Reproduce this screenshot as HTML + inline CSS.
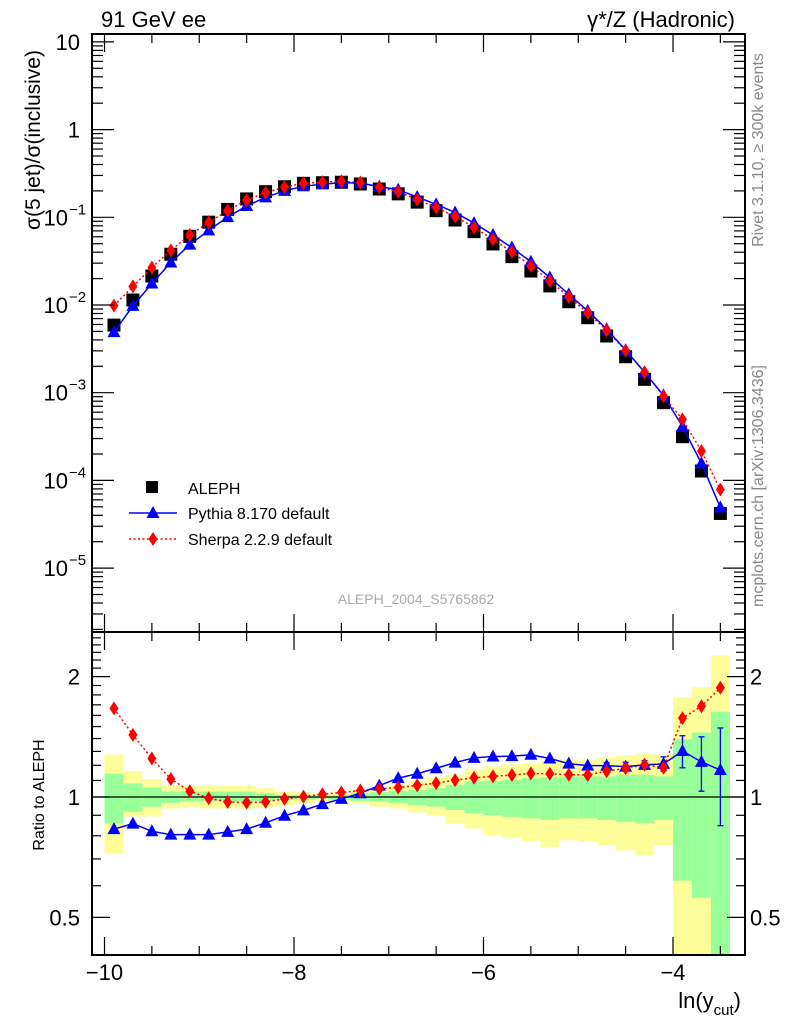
<!DOCTYPE html>
<html><head><meta charset="utf-8"><style>
body{margin:0;background:#fff}
svg{display:block;font-family:"Liberation Sans",sans-serif}
</style></head><body>
<svg id="c" width="786" height="1024"></svg>
<script>
// ---- data ----
const xVals = [-9.9,-9.7,-9.5,-9.3,-9.1,-8.9,-8.7,-8.5,-8.3,-8.1,-7.9,-7.7,-7.5,-7.3,-7.1,-6.9,-6.7,-6.5,-6.3,-6.1,-5.9,-5.7,-5.5,-5.3,-5.1,-4.9,-4.7,-4.5,-4.3,-4.1,-3.9,-3.7,-3.5];
const alephVals = [5.9e-3,0.0114,0.0214,0.0379,0.0607,0.088,0.123,0.162,0.196,0.223,0.244,0.248,0.251,0.240,0.210,0.185,0.149,0.119,0.0931,0.0686,0.0497,0.0356,0.0244,0.0165,0.0109,7.16e-3,4.43e-3,2.57e-3,1.42e-3,7.7e-4,3.15e-4,1.28e-4,4.2e-5];
const pythiaRatio = [0.831,0.858,0.821,0.805,0.805,0.805,0.818,0.831,0.862,0.898,0.926,0.960,0.989,1.022,1.068,1.115,1.143,1.180,1.219,1.253,1.263,1.265,1.275,1.248,1.212,1.198,1.198,1.191,1.203,1.210,1.303,1.224,1.168];
const pythiaErr = [0,0,0,0,0,0,0,0,0,0,0,0,0,0,0,0,0,0,0,0,0,0,0,0,0,0,0.02,0.03,0.03,0.05,0.12,0.19,0.32];
const sherpaRatio = [1.665,1.43,1.248,1.109,1.034,0.993,0.972,0.968,0.972,0.989,1.002,1.016,1.026,1.038,1.048,1.056,1.069,1.083,1.102,1.117,1.126,1.135,1.145,1.143,1.137,1.135,1.160,1.180,1.205,1.183,1.575,1.686,1.875];
const yellowHi = [1.277,1.160,1.109,1.067,1.067,1.067,1.067,1.067,1.052,1.032,1.028,1.022,1.028,1.042,1.052,1.073,1.094,1.115,1.137,1.175,1.193,1.205,1.217,1.229,1.241,1.241,1.253,1.272,1.282,1.277,1.776,1.883,2.26];
const greenHi = [1.143,1.081,1.056,1.032,1.032,1.032,1.032,1.032,1.022,1.012,1.012,1.008,1.012,1.022,1.028,1.036,1.042,1.052,1.073,1.094,1.098,1.105,1.115,1.119,1.126,1.126,1.126,1.137,1.137,1.126,1.394,1.449,1.633];
const greenLo = [0.858,0.919,0.945,0.966,0.974,0.974,0.974,0.974,0.978,0.981,0.985,0.989,0.983,0.978,0.974,0.965,0.955,0.946,0.928,0.910,0.901,0.892,0.884,0.876,0.884,0.884,0.876,0.867,0.858,0.876,0.618,0.560,0.3];
const yellowLo = [0.722,0.894,0.894,0.936,0.942,0.936,0.936,0.936,0.942,0.955,0.965,0.974,0.974,0.965,0.946,0.936,0.915,0.901,0.858,0.834,0.802,0.794,0.775,0.749,0.779,0.772,0.757,0.735,0.714,0.757,0.3,0.3,0.3];
const xTicks = [-10,-8,-6,-4];
const yMainTicks = [1,0,-1,-2,-3,-4,-5];
const yMainLabels = ["10","1","10","10","10","10","10"];
const yMainExps = ["","","\u22121","\u22122","\u22123","\u22124","\u22125"];
const ratioTicks = [0.5,1,2];

// ---- scales ----
const NS="http://www.w3.org/2000/svg", svg=document.getElementById('c');
const L=92,R=745,T=34,MB=632,RB=955;
const X=v=>104.5+(v+10)*94.75;
const YM=v=>217.3-(Math.log10(v)+1)*87.7;
const YR=v=>797-400*Math.log10(v);
function el(t,a,p){const e=document.createElementNS(NS,t);for(const k in a)e.setAttribute(k,a[k]);(p||svg).appendChild(e);return e;}
function txt(s,a,p){const e=el('text',a,p);e.textContent=s;return e;}

const defs=el('defs',{});
const c1=el('clipPath',{id:'cm'},defs);el('rect',{x:L,y:T,width:R-L,height:MB-T},c1);
const c2=el('clipPath',{id:'cr'},defs);el('rect',{x:L,y:MB,width:R-L,height:RB-MB},c2);

// ---- ratio bands ----
const gR=el('g',{'clip-path':'url(#cr)'});


xVals.forEach((x,i)=>{
  const x0=X(x-0.1),w=X(x+0.1)-x0;
  const y=el('rect',{x:x0,y:YR(yellowHi[i]),width:w,height:YR(yellowLo[i])-YR(yellowHi[i]),fill:'#ffff99'},gR);
  
  
  const g=el('rect',{x:x0,y:YR(greenHi[i]),width:w,height:YR(greenLo[i])-YR(greenHi[i]),fill:'#99ff99'},gR);
  
  
});
el('line',{x1:L,x2:R,y1:YR(1),y2:YR(1),stroke:'#000','stroke-width':1.3},gR);

function tri(g,x,y,c){return el('path',{d:`M${x} ${y-7}L${x+6.5} ${y+5}L${x-6.5} ${y+5}Z`,fill:c},g);}
function dia(g,x,y,c){return el('path',{d:`M${x} ${y-7}L${x+4.5} ${y}L${x} ${y+7}L${x-4.5} ${y}Z`,fill:c},g);}

el('polyline',{points:xVals.map((x,i)=>X(x)+','+YR(sherpaRatio[i])).join(' '),fill:'none',stroke:'#f00','stroke-width':1.5,'stroke-dasharray':'2,2.5'},gR);
el('polyline',{points:xVals.map((x,i)=>X(x)+','+YR(pythiaRatio[i])).join(' '),fill:'none',stroke:'#00f','stroke-width':1.5},gR);
xVals.forEach((x,i)=>{
  if(pythiaErr[i]>0){
    const a=YR(pythiaRatio[i]+pythiaErr[i]),b=YR(Math.max(pythiaRatio[i]-pythiaErr[i],0.3));
    el('line',{x1:X(x),x2:X(x),y1:a,y2:b,stroke:'#00f','stroke-width':1.3},gR);
    el('line',{x1:X(x)-3,x2:X(x)+3,y1:a,y2:a,stroke:'#00f','stroke-width':1.3},gR);
    el('line',{x1:X(x)-3,x2:X(x)+3,y1:b,y2:b,stroke:'#00f','stroke-width':1.3},gR);
  }
  const p=tri(gR,X(x),YR(pythiaRatio[i]),'#00f');
  
  
  const s=dia(gR,X(x),YR(sherpaRatio[i]),'#f00');
  
  
});

// ---- main plot ----
const gM=el('g',{'clip-path':'url(#cm)'});


const pyV=alephVals.map((v,i)=>v*pythiaRatio[i]);
const shV=alephVals.map((v,i)=>v*sherpaRatio[i]);
xVals.forEach((x,i)=>{
  const s=el('rect',{x:X(x)-6.5,y:YM(alephVals[i])-6.5,width:13,height:13,fill:'#000'},gM);
  
  
});
el('polyline',{points:xVals.map((x,i)=>X(x)+','+YM(shV[i])).join(' '),fill:'none',stroke:'#f00','stroke-width':1.5,'stroke-dasharray':'2,2.5'},gM);
el('polyline',{points:xVals.map((x,i)=>X(x)+','+YM(pyV[i])).join(' '),fill:'none',stroke:'#00f','stroke-width':1.5},gM);
xVals.forEach((x,i)=>{
  const p=tri(gM,X(x),YM(pyV[i]),'#00f');
  
  
  const s=dia(gM,X(x),YM(shV[i]),'#f00');
  
  
});

// ---- frames & ticks ----
el('rect',{x:L,y:T,width:R-L,height:MB-T,fill:'none',stroke:'#000','stroke-width':2});
el('rect',{x:L,y:MB,width:R-L,height:RB-MB,fill:'none',stroke:'#000','stroke-width':2});
const tk={stroke:'#000','stroke-width':1.2};
for(let v=-10;v<=-3.3;v+=0.5){
  const x=X(v),maj=Math.abs(v-Math.round(v/2)*2)<1e-6,len=maj?18:9;
  [[T,T+len],[MB,MB-len],[MB,MB+len],[RB,RB-len]].forEach(([a,b])=>el('line',Object.assign({x1:x,x2:x,y1:a,y2:b},tk)));
}
for(let d=-6;d<=1;d++){for(let m=1;m<10;m++){
  const y=YM(m*Math.pow(10,d)); if(y<T||y>MB)continue;
  const len=m==1?22:11;
  el('line',Object.assign({x1:L,x2:L+len,y1:y,y2:y},tk));
  el('line',Object.assign({x1:R,x2:R-len,y1:y,y2:y},tk));
}}
for(let v=0.4;v<=2.6;v+=0.1){
  const y=YR(v); if(y<MB||y>RB)continue;
  const maj=[0.5,1,2].some(q=>Math.abs(q-v)<1e-6),len=maj?18:9;
  el('line',Object.assign({x1:L,x2:L+len,y1:y,y2:y},tk));
  el('line',Object.assign({x1:R,x2:R-len,y1:y,y2:y},tk));
}
yMainTicks.forEach((e,i)=>{
  const y=YM(Math.pow(10,e));
  const t=txt(yMainLabels[i],{x:yMainExps[i]?68:80,y:y+8,'font-size':22,'text-anchor':'end'});
  
  
  if(yMainExps[i]){
    const s=txt(yMainExps[i],{x:69,y:y-3,'font-size':15});
    
    
  }
});
ratioTicks.forEach(v=>{
  const y=YR(v),s=String(v);
  const a=txt(s,{x:80,y:y+8,'font-size':22,'text-anchor':'end'});
  
  
  const b=txt(s,{x:750,y:y+8,'font-size':22});
  
  
});
xTicks.forEach(v=>{
  const t=txt(v<0?'\u2212'+Math.abs(v):String(v),{x:X(v),y:980,'font-size':22,'text-anchor':'middle'});
  
  
});
</script>
<div style="position:absolute;left:0;top:0;width:786px;height:1024px;pointer-events:none">
<svg width="786" height="1024" style="position:absolute;left:0;top:0">
<text x="101" y="27" font-size="22">91 GeV ee</text>
<text x="735" y="27" font-size="22" text-anchor="end">γ*/Z (Hadronic)</text>
<text transform="translate(40,140) rotate(-90)" font-size="21" text-anchor="middle">σ(5 jet)/σ(inclusive)</text>
<text transform="translate(44,795) rotate(-90)" font-size="16" text-anchor="middle">Ratio to ALEPH</text>
<text x="741" y="1008" font-size="22" text-anchor="end">ln(y<tspan font-size="15" dy="7">cut</tspan><tspan dy="-7">)</tspan></text>
<text transform="translate(763,150) rotate(-90)" font-size="16" fill="#888" text-anchor="middle">Rivet 3.1.10, ≥ 300k events</text>
<text transform="translate(763,486) rotate(-90)" font-size="16" fill="#888" text-anchor="middle">mcplots.cern.ch [arXiv:1306.3436]</text>
<text x="416" y="604" font-size="14" fill="#aaa" text-anchor="middle">ALEPH_2004_S5765862</text>
<g>
<rect x="146" y="481" width="12" height="12" fill="#000"/>
<text x="188" y="494" font-size="16">ALEPH</text>
<line x1="129" x2="177" y1="513" y2="513" stroke="#00f" stroke-width="1.5"/>
<path d="M153 506L159.5 518L146.5 518Z" fill="#00f"/>
<text x="188" y="519" font-size="16">Pythia 8.170 default</text>
<line x1="129" x2="177" y1="539" y2="539" stroke="#f00" stroke-width="1.5" stroke-dasharray="2,2.5"/>
<path d="M153 532L157.5 539L153 546L148.5 539Z" fill="#f00"/>
<text x="188" y="545" font-size="16">Sherpa 2.2.9 default</text>
</g>
</svg></div>
</body></html>
